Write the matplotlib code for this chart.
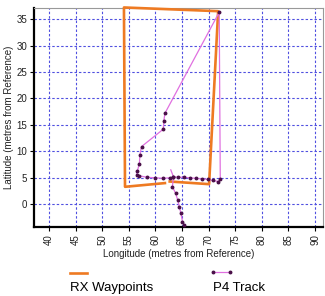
import matplotlib
matplotlib.use("Agg")
from matplotlib import pyplot as plt
from matplotlib.lines import Line2D

plt.rcParams["font.family"] = ["Liberation Sans", "DejaVu Sans"]

# RX waypoints (orange outline)
wp_lon = [62.7, 70.1, 71.8, 54.1, 54.3, 61.8]
wp_lat = [4.3, 3.8, 36.5, 37.2, 3.3, 4.0]

# P4 track (dotted magenta path)
trk_lon = [62.9, 63.4, 64.3, 65.4, 66.5, 67.6, 68.7, 69.9, 70.8, 71.8, 72.2,
           72.1, 72.0, 61.8, 61.6, 61.5, 57.4, 57.1, 57.0, 56.6, 56.5, 56.9,
           58.4, 60.0, 61.4, 62.7, 63.4, 63.2, 63.8, 64.2, 64.5, 64.8, 65.1, 65.4]
trk_lat = [6.5, 5.2, 5.1, 5.1, 5.0, 4.9, 4.8, 4.7, 4.5, 4.3, 4.7,
           20.0, 36.3, 17.2, 15.8, 14.2, 10.9, 9.3, 7.7, 6.2, 5.5, 5.4,
           5.1, 5.0, 4.9, 5.0, 5.1, 3.3, 2.1, 0.8, -0.5, -1.7, -3.3, -3.9]
trk_dots = [i for i in range(len(trk_lon)) if i not in (0, 11)]

xticks = list(range(40, 95, 5))
yticks = list(range(0, 40, 5))

orange = "#EE7A22"
track_col = "#E070E0"
dot_col = "#4A1048"

fig = plt.figure(figsize=(3.25, 2.96), dpi=100)
ax = fig.add_axes([34 / 325, 1 - 227 / 296, 289 / 325, 219 / 296])

ax.plot(wp_lon, wp_lat, color=orange, lw=1.9, clip_on=False, zorder=3)
ax.plot(trk_lon, trk_lat, color=track_col, lw=0.9, zorder=4)
ax.plot([trk_lon[i] for i in trk_dots], [trk_lat[i] for i in trk_dots],
        ls="none", marker="o", ms=1.8, color=dot_col, zorder=5)

ax.set_xlim(37.2, 91.5)
ax.set_ylim(-4.3, 37.1)
ax.set_xticks(xticks)
ax.set_yticks(yticks)
ax.tick_params(axis="x", labelrotation=90, labelsize=7, length=3, pad=2,
               labelcolor="#222222")
ax.tick_params(axis="y", labelsize=7, length=3, pad=2, labelcolor="#222222")
ax.grid(True, color="#5050E0", linestyle=(0, (2.2, 1.8)), lw=0.8)
ax.set_axisbelow(True)

for s in ["left", "bottom"]:
    ax.spines[s].set_linewidth(1.6)
    ax.spines[s].set_color("black")
for s in ["top", "right"]:
    ax.spines[s].set_linewidth(0.8)
    ax.spines[s].set_color("#999999")

ax.set_xlabel("Longitude (metres from Reference)", fontsize=7, labelpad=3,
              color="#222222")
ax.set_ylabel("Latitude (metres from Reference)", fontsize=7, labelpad=2,
              color="#222222")

# legend drawn below the axes
fig.add_artist(Line2D([70 / 325, 87 / 325], [1 - 273 / 296] * 2,
                      color=orange, lw=1.9))
fig.add_artist(Line2D([213 / 325, 230 / 325], [1 - 272 / 296] * 2,
                      color=track_col, lw=0.9, marker="o", ms=1.8,
                      markerfacecolor=dot_col, markeredgecolor=dot_col))
fig.text(70 / 325, 1 - 288 / 296, "RX Waypoints", fontsize=9.5, va="center")
fig.text(213 / 325, 1 - 288 / 296, "P4 Track", fontsize=9.5, va="center")

plt.savefig("out.png", dpi=100)
